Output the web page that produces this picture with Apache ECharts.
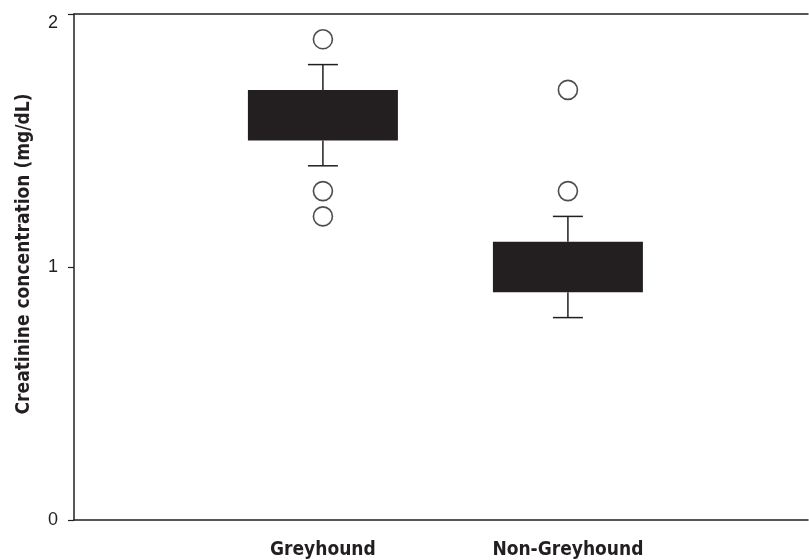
<!DOCTYPE html>
<html>
<head>
<meta charset="utf-8">
<script src="https://cdn.jsdelivr.net/npm/echarts@6/dist/echarts.min.js"></script>
<style>
html,body{margin:0;padding:0;background:#fff;}
#chart{width:809px;height:560px;}
</style>
</head>
<body>
<div id="chart"></div>
<script>
var categories = ['Greyhound', 'Non-Greyhound'];
var categoryPositions = [1, 2];
var whiskerLow = [1.4, 0.8];
var q1 = [1.5, 0.9];
var q3 = [1.7, 1.1];
var whiskerHigh = [1.8, 1.2];
var greyhoundOutliers = [1.9, 1.3, 1.2];
var nonGreyhoundOutliers = [1.7, 1.3];
var yTicks = [0, 1, 2];

var boxData = categories.map(function (c, i) {
  return [categoryPositions[i], whiskerLow[i], q1[i], q3[i], whiskerHigh[i]];
});
var outlierData = greyhoundOutliers.map(function (v) { return [categoryPositions[0], v]; })
  .concat(nonGreyhoundOutliers.map(function (v) { return [categoryPositions[1], v]; }));

var FONT = '"Liberation Sans Narrow", "DejaVu Sans Condensed", "Liberation Sans", sans-serif';
var INK = '#231f20';
var X_MIN = -0.016, X_MAX = 2.98;

var chart = echarts.init(document.getElementById('chart'), null, {renderer: 'canvas'});
chart.setOption({
  animation: false,
  backgroundColor: '#fff',
  grid: {left: 74, right: 1, top: 14, bottom: 37, containLabel: false},
  xAxis: [{
    type: 'value', min: X_MIN, max: X_MAX,
    axisLine: {show: true, onZero: false, lineStyle: {color: INK, width: 1.5}},
    axisTick: {show: false},
    splitLine: {show: false},
    axisLabel: {
      customValues: categoryPositions,
      margin: 21,
      fontFamily: FONT, fontWeight: 'bold', fontSize: 19, color: INK,
      formatter: function (v) {
        var idx = categoryPositions.indexOf(v);
        return idx >= 0 ? categories[idx] : '';
      }
    }
  }, {
    type: 'value', min: X_MIN, max: X_MAX, position: 'top',
    axisLine: {show: true, onZero: false, lineStyle: {color: INK, width: 1.5}},
    axisTick: {show: false}, axisLabel: {show: false}, splitLine: {show: false}
  }],
  yAxis: {
    type: 'value', min: yTicks[0], max: yTicks[yTicks.length - 1], interval: 1,
    name: 'Creatinine concentration (mg/dL)',
    nameLocation: 'middle', nameGap: 40,
    nameTextStyle: {fontFamily: FONT, fontWeight: 'bold', fontSize: 19, color: INK, padding: [0, 0, 0, 26]},
    axisLine: {show: true, onZero: false, lineStyle: {color: INK, width: 1.5}},
    axisTick: {show: true, length: 6, lineStyle: {color: INK, width: 1.2}},
    splitLine: {show: false},
    axisLabel: {margin: 16, fontFamily: '"Liberation Sans", sans-serif', fontSize: 18, color: INK,
      verticalAlignMaxLabel: 'top'}
  },
  series: [{
    type: 'custom',
    data: boxData,
    encode: {x: 0, y: [1, 2, 3, 4]},
    renderItem: function (params, api) {
      var x = api.value(0);
      var pLow = api.coord([x, api.value(1)]);
      var pQ1 = api.coord([x, api.value(2)]);
      var pQ3 = api.coord([x, api.value(3)]);
      var pHigh = api.coord([x, api.value(4)]);
      var halfBox = 75, halfCap = 15;
      var ls = {stroke: INK, lineWidth: 1.5};
      return {
        type: 'group',
        children: [
          {type: 'line', shape: {x1: pHigh[0], y1: pHigh[1], x2: pQ3[0], y2: pQ3[1]}, style: ls},
          {type: 'line', shape: {x1: pLow[0], y1: pLow[1], x2: pQ1[0], y2: pQ1[1]}, style: ls},
          {type: 'line', shape: {x1: pHigh[0] - halfCap, y1: pHigh[1], x2: pHigh[0] + halfCap, y2: pHigh[1]}, style: ls},
          {type: 'line', shape: {x1: pLow[0] - halfCap, y1: pLow[1], x2: pLow[0] + halfCap, y2: pLow[1]}, style: ls},
          {type: 'rect', shape: {x: pQ3[0] - halfBox, y: pQ3[1], width: halfBox * 2, height: pQ1[1] - pQ3[1]}, style: {fill: INK}}
        ]
      };
    },
    z: 2
  }, {
    type: 'scatter',
    data: outlierData,
    symbol: 'circle',
    symbolSize: 19,
    itemStyle: {color: '#fff', borderColor: INK, borderWidth: 1.6},
    z: 3
  }]
});
</script>
</body>
</html>
